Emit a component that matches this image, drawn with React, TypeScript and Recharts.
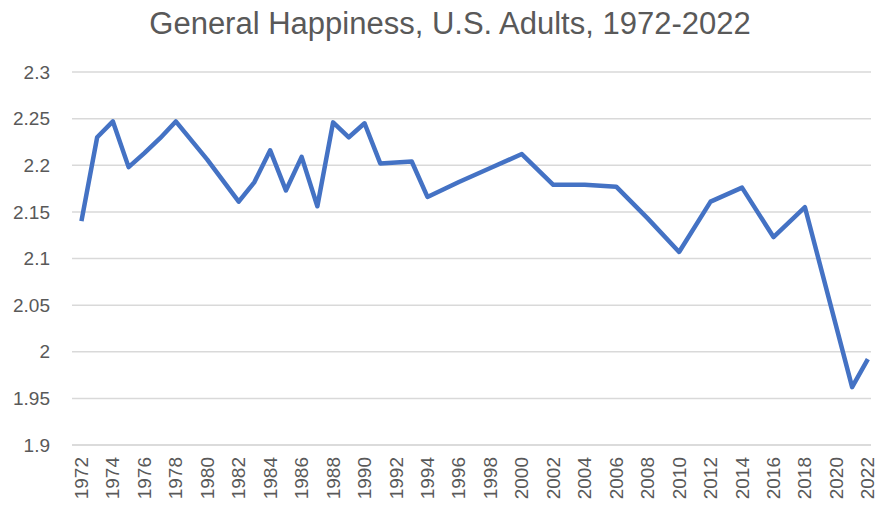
import { LineChart, Line, XAxis, YAxis, CartesianGrid } from "recharts";

const years = [
  1972, 1973, 1974, 1975, 1976, 1977, 1978, 1980, 1982, 1983, 1984, 1985,
  1986, 1987, 1988, 1989, 1990, 1991, 1993, 1994, 1996, 1998, 2000, 2002,
  2004, 2006, 2008, 2010, 2012, 2014, 2016, 2018, 2021, 2022,
];
const happiness = [
  2.14, 2.23, 2.247, 2.198, 2.213, 2.229, 2.247, 2.206, 2.161, 2.182, 2.216, 2.173,
  2.209, 2.156, 2.246, 2.23, 2.245, 2.202, 2.204, 2.166, 2.182, 2.197, 2.212, 2.179,
  2.179, 2.177, 2.143, 2.107, 2.161, 2.176, 2.123, 2.155, 1.962, 1.992,
];
const yearTicks = [
  1972, 1974, 1976, 1978, 1980, 1982, 1984, 1986, 1988, 1990, 1992, 1994, 1996,
  1998, 2000, 2002, 2004, 2006, 2008, 2010, 2012, 2014, 2016, 2018, 2020, 2022,
];
const valueTicks = [1.9, 1.95, 2, 2.05, 2.1, 2.15, 2.2, 2.25, 2.3];

const data = years.map((year, i) => ({ year, value: happiness[i] }));

const FONT = '"Liberation Sans", Arial, sans-serif';
const GREY = "#595959";

function YearTick({ x, y, payload }: any) {
  return (
    <text
      x={x}
      y={y}
      transform={`rotate(-90, ${x}, ${y})`}
      textAnchor="end"
      dominantBaseline="central"
      fill={GREY}
      fontSize={19}
      fontFamily={FONT}
    >
      {payload.value}
    </text>
  );
}

export default function App() {
  return (
    <div style={{ position: "absolute", left: 0, top: 0, width: 877, height: 508, background: "#fff" }}>
      <div
        style={{
          position: "absolute",
          left: 0,
          top: 6,
          width: 900,
          textAlign: "center",
          fontFamily: FONT,
          fontSize: 31,
          color: GREY,
        }}
      >
        General Happiness, U.S. Adults, 1972-2022
      </div>
      <LineChart width={877} height={508} data={data} margin={{ top: 72, right: 6, left: 0, bottom: 3 }}>
        <CartesianGrid vertical={false} stroke="#d9d9d9" strokeWidth={1.5} />
        <XAxis
          dataKey="year"
          type="number"
          domain={[1971.4, 2022.2]}
          ticks={yearTicks}
          interval={0}
          height={60}
          tickLine={false}
          tickSize={6}
          tickMargin={6}
          axisLine={{ stroke: "#d9d9d9", strokeWidth: 1.5 }}
          tick={<YearTick />}
        />
        <YAxis
          type="number"
          domain={[1.9, 2.3]}
          ticks={valueTicks}
          interval={0}
          width={72}
          axisLine={false}
          tickLine={false}
          tickMargin={16}
          tick={{ fill: GREY, fontSize: 19, fontFamily: FONT }}
        />
        <Line
          type="linear"
          dataKey="value"
          stroke="#4472C4"
          strokeWidth={4.5}
          strokeLinejoin="round"
          dot={false}
          isAnimationActive={false}
        />
      </LineChart>
    </div>
  );
}
